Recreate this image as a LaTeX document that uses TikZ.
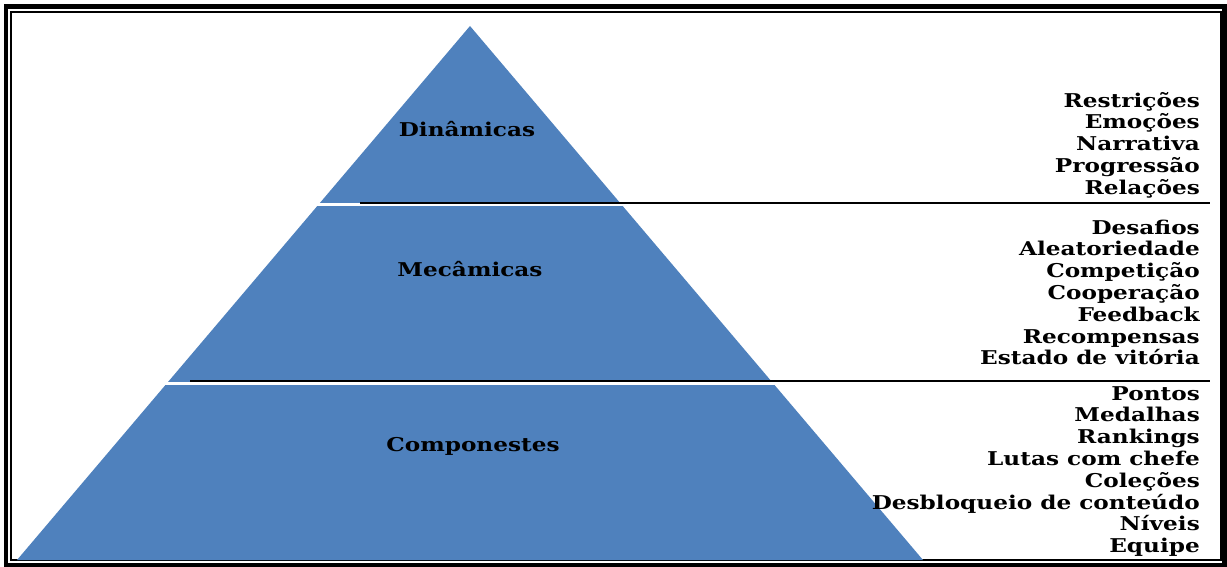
\documentclass[tikz,border=0pt]{standalone}
\usepackage{fontspec}
\setmainfont{DejaVu Serif}
\newfontfamily\widefont[FakeStretch=1.22]{DejaVu Serif}
\definecolor{pyrblue}{RGB}{79,129,189}
\begin{document}
\begin{tikzpicture}[x=1pt,y=-1pt,
  layerlabel/.style={font=\widefont\bfseries\fontsize{19}{21}\selectfont, text=black, inner sep=0pt},
  itemlist/.style={font=\widefont\bfseries\fontsize{19}{21.8}\selectfont, align=right, anchor=east, inner sep=0pt, text=black},
  divider/.style={black, line width=2pt},
  gap/.style={white, line width=3pt}]
\useasboundingbox (0,0) rectangle (1227,567);
% frame
\draw[line width=4.5pt] (6,6.5) rectangle (1224.5,565);
\draw[line width=2pt] (11,12) rectangle (1220.5,560);
% pyramid
\coordinate (apex) at (470,26);
\coordinate (bl) at (17,560);
\coordinate (br) at (923,560);
\fill[pyrblue] (apex) -- (br) -- (bl) -- cycle;
% gaps and dividers
\draw[gap] (300,204.5) -- (650,204.5);
\draw[gap] (150,383) -- (800,383);
\coordinate (d1a) at (360,203);
\coordinate (d1b) at (1210,203);
\coordinate (d2a) at (190,381);
\coordinate (d2b) at (1210,381);
\draw[divider] (d1a) -- (d1b);
\draw[divider] (d2a) -- (d2b);
% layer labels
\node[layerlabel] (din) at (467,129) {Dinâmicas};
\node[layerlabel] (mec) at (470,269) {Mecâmicas};
\node[layerlabel] (comp) at (473,446) {Componestes};
% lists
\node[itemlist] (l1) at (1200,145) {Restrições\\Emoções\\Narrativa\\Progressão\\Relações};
\node[itemlist] (l2) at (1200,292.5) {Desafios\\Aleatoriedade\\Competição\\Cooperação\\Feedback\\Recompensas\\Estado de vitória};
\node[itemlist] (l3) at (1200,471.5) {Pontos\\Medalhas\\Rankings\\Lutas com chefe\\Coleções\\Desbloqueio de conteúdo\\Níveis\\Equipe};
\end{tikzpicture}
\end{document}
